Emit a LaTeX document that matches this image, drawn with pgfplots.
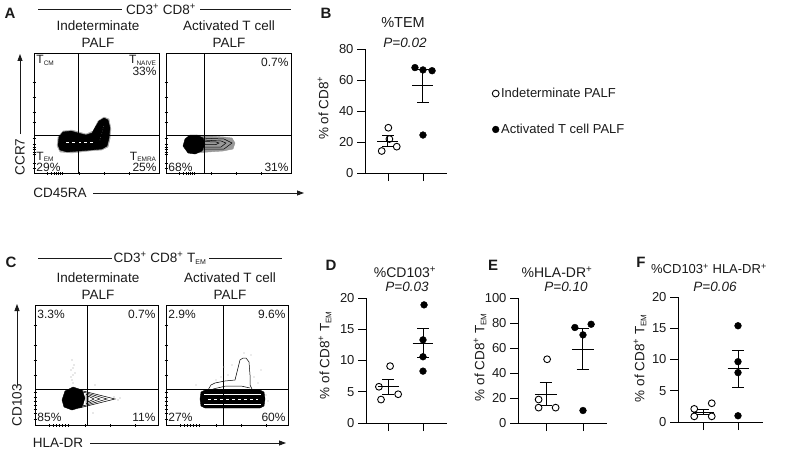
\documentclass[border=0pt]{standalone}
\usepackage{fontspec}
\setmainfont{Liberation Sans}
\usepackage{pgfplots}
\pgfplotsset{compat=1.18}
\usetikzlibrary{arrows.meta}
\definecolor{txt}{HTML}{1A1A1A}
\newcommand{\fs}[1]{\fontsize{#1}{#1}\selectfont}
\tikzset{ql/.style={inner sep=1pt, font=\fontsize{12}{11.5}\selectfont, text=txt}}
\begin{document}
\begin{tikzpicture}[x=1pt,y=-1pt]
\useasboundingbox (0,0) rectangle (785,452);
\pgfplotsset{
 flow/.style={scale only axis, anchor=south west, height=120pt, ymin=0, ymax=120,
   axis line style={line width=0.8pt}, xticklabels={}, yticklabels={},
   tick style={black,line width=0.5pt}, major tick length=3pt, tick align=center,
   tick pos=left, clip=true},
 dot/.style={scale only axis, anchor=south west, axis x line*=bottom, axis y line*=left,
   xtick={1,2}, xticklabels={}, major tick length=8pt, tick align=outside,
   tick style={black,line width=0.9pt}, axis line style={line width=0.9pt},
   ymin=0, height=125pt, ticklabel style={font=\fs{13}, text=txt},
   /pgf/number format/assume math mode=true, clip=false},
 open/.style={only marks, mark=o, mark size=3.4pt, mark options={line width=0.9pt, black, fill=white}},
 closed/.style={only marks, mark=*, mark size=3.4pt, mark options={black, fill=black}},
 sem/.style={black, line width=1pt, unbounded coords=jump, forget plot},
 blob/.style={fill=black, draw=black, line width=0.4pt, forget plot},
 cont/.style={black, line width=0.5pt, forget plot},
}
% ---------------- Panel A -----------------
\begin{axis}[flow, at={(34pt,-173pt)}, width=125pt, xmin=0, xmax=125,
  xtick={13,17,20,22,24,26,28,45,70,95}, ytick={5,10,19,21,24,26,29,35,51,61,76,91}]
\addplot[black!35, fill=black!35, forget plot] coordinates {(23,27)(24,36)(29,42)(38,43)(52,39)(59,42)(64,52)(70,56)(75,54)(77,44)(76,34)(74,26)(68,23)(55,22)(38,20)(26,21)(23,27)};
\addplot[blob] coordinates {(24,28)(25,36)(29,41)(37,42)(44,40)(52,38)(58,40)(62,47)(65,52)(70,55)(74,53)(76,45)(75,35)(73,27)(68,24)(57,23)(45,22)(33,21)(26,23)(24,28)};
\addplot[white, line width=0.4pt, dashed, forget plot] coordinates {(32,31)(60,31)};
\addplot[white, line width=0.3pt, dotted, forget plot] coordinates {(66,33)(70,48)};
\addplot[black, line width=0.9pt, forget plot] coordinates {(44,0)(44,120)};
\addplot[black, line width=0.9pt, forget plot] coordinates {(0,38)(125,38)};
\node[ql, anchor=north west] at (rel axis cs:0.01,0.99) {T\textsubscript{\fs{6.5}CM}};
\node[ql, anchor=north east, align=right] at (rel axis cs:0.99,0.99) {T\textsubscript{\fs{6.5}NAIVE}\\33\%};
\node[ql, anchor=south west, align=left] at (rel axis cs:0.01,0.0) {T\textsubscript{\fs{6.5}EM}\\29\%};
\node[ql, anchor=south east, align=right] at (rel axis cs:0.99,0.0) {T\textsubscript{\fs{6.5}EMRA}\\25\%};
\end{axis}
\begin{axis}[flow, at={(166pt,-173pt)}, width=125pt, xmin=0, xmax=125,
  xtick={13,17,20,22,24,26,28,45,70,95}, ytick={5,10,19,21,24,26,29,35,51,61,76,91}]
\addplot[black!40, fill=black!40, forget plot] coordinates {(18,27)(20,34)(24,37)(32,38)(44,37)(58,36)(66,35)(69,30)(67,24)(57,22)(42,21)(30,20)(22,21)(18,27)};
\addplot[cont] coordinates {(34,35)(58,34)(66,30)(58,24)(34,24)(34,35)};
\addplot[cont] coordinates {(36,33)(55,32)(60,30)(55,26)(36,26)(36,33)};
\addplot[cont] coordinates {(38,31.5)(50,31)(53,30)(50,28.5)(38,28.5)(38,31.5)};
\addplot[blob] coordinates {(17,27)(19,34)(24,38)(31,38)(37,35)(39,29)(36,22)(29,19)(22,20)(17,27)};
\addplot[black, line width=0.9pt, forget plot] coordinates {(38,0)(38,120)};
\addplot[black, line width=0.9pt, forget plot] coordinates {(0,38)(125,38)};
\node[ql, anchor=north east] at (rel axis cs:0.99,0.97) {0.7\%};
\node[ql, anchor=south west] at (rel axis cs:0.01,0.0) {68\%};
\node[ql, anchor=south east] at (rel axis cs:0.99,0.0) {31\%};
\end{axis}
% ---------------- Panel B -----------------
\begin{axis}[dot, at={(365pt,-173pt)}, width=82pt, height=124pt, xmin=0.343, xmax=2.686,
  ymax=80, ytick={0,20,40,60,80},
  legend style={draw=none, fill=none, at={(axis description cs:1.55,0.496)}, anchor=west,
    font=\fs{13}, text=txt, row sep=21pt, inner sep=0pt,
    nodes={inner xsep=2pt}}, legend cell align=left]
\addplot[open] coordinates {(1.01,29.2)(0.82,14.2)(1.25,17.0)(1.04,21.9)};
\addlegendentry{Indeterminate PALF}
\addplot[closed] coordinates {(1.77,68.0)(2.0,66.5)(2.26,66.0)(2.0,24.5)};
\addlegendentry{Activated T cell PALF}
\addplot[sem] coordinates {(0.7,20.6)(1.3,20.6)(1,inf)(0.83,23.9)(1.17,23.9)(1,inf)(0.83,17.3)(1.17,17.3)(1,inf)(1,17.3)(1,23.9)};
\addplot[sem] coordinates {(1.7,56.25)(2.3,56.25)(2,inf)(1.83,66.9)(2.17,66.9)(2,inf)(1.83,45.6)(2.17,45.6)(2,inf)(2,45.6)(2,66.9)};
\end{axis}
% ---------------- Panel C -----------------
\begin{axis}[flow, at={(35pt,-425pt)}, width=123pt, xmin=0, xmax=123,
  xtick={14,18,21,24,27,30,33,50,75,100}, ytick={6,12,16,20,24,28,33,50,65,80,100}]
\addplot[black!30, only marks, mark=*, mark size=0.35pt, forget plot] coordinates {(37,45)(38,50)(36,55)(39,60)(37,65)(38,42)(36,48)(38,57)(40,52)(80,26)(83,25)(85,27)(79,28)(58,12)(60,40)};
\addplot[cont] coordinates {(44,35)(80,26)(44,17)(44,35)};
\addplot[cont] coordinates {(48,33)(72,26)(48,19)(48,33)};
\addplot[cont] coordinates {(51,31)(65,26)(51,21)(51,31)};
\addplot[cont] coordinates {(53,29)(59,26)(53,23)(53,29)};
\addplot[blob] coordinates {(27,25)(30,34)(38,38)(47,35)(50,27)(47,18)(37,15)(29,18)(27,25)};
\addplot[black, line width=0.9pt, forget plot] coordinates {(52,0)(52,120)};
\addplot[black, line width=0.9pt, forget plot] coordinates {(0,36)(123,36)};
\node[ql, anchor=north west] at (rel axis cs:0.01,0.97) {3.3\%};
\node[ql, anchor=north east] at (rel axis cs:0.99,0.97) {0.7\%};
\node[ql, anchor=south west] at (rel axis cs:0.01,0.02) {85\%};
\node[ql, anchor=south east] at (rel axis cs:0.99,0.02) {11\%};
\end{axis}
\begin{axis}[flow, at={(166pt,-425pt)}, width=122pt, xmin=0, xmax=122,
  xtick={14,18,21,24,27,30,33,50,75,100}, ytick={6,12,16,20,24,28,33,50,65,80,100}]
\addplot[black!25, only marks, mark=*, mark size=0.35pt, forget plot] coordinates {(50,45)(55,48)(62,50)(88,48)(92,42)(95,55)(66,60)(58,58)(100,30)(102,24)(30,40)(85,70)(78,72)};
\addplot[cont] coordinates {(42,35)(45,40)(49,42)(59,44)(69,45)(71,53)(74,65)(77,67)(80,67)(83,63)(84,50)(84,40)(86,36)};
\addplot[cont] coordinates {(47,36)(60,39)(75,39)(84,37)};
\addplot[blob] coordinates {(39,35)(94,35)(98,33)(99,26)(98,19)(94,17)(39,17)(35,19)(34,26)(35,33)(39,35)};
\addplot[white, line width=0.4pt, dashed, forget plot] coordinates {(42,26)(92,26)};
\addplot[white, line width=0.3pt, forget plot] coordinates {(38,31)(95,31)};
\addplot[white, line width=0.3pt, forget plot] coordinates {(38,21)(95,21)};
\addplot[black, line width=0.9pt, forget plot] coordinates {(57,0)(57,120)};
\addplot[black, line width=0.9pt, forget plot] coordinates {(0,36)(122,36)};
\node[ql, anchor=north west] at (rel axis cs:0.01,0.97) {2.9\%};
\node[ql, anchor=north east] at (rel axis cs:0.99,0.97) {9.6\%};
\node[ql, anchor=south west] at (rel axis cs:0.01,0.02) {27\%};
\node[ql, anchor=south east] at (rel axis cs:0.99,0.02) {60\%};
\end{axis}
% ---------------- Panel D -----------------
\begin{axis}[dot, at={(366pt,-423pt)}, width=81pt, xmin=0.371, xmax=2.686, ymax=20, ytick={0,5,10,15,20}]
\addplot[open] coordinates {(1.06,9.1)(0.74,5.8)(1.29,4.6)(0.8,3.75)};
\addplot[closed] coordinates {(2.03,18.9)(2,13.3)(2,10.6)(2,8.3)};
\addplot[sem] coordinates {(0.7,5.81)(1.3,5.81)(1,inf)(0.83,6.98)(1.17,6.98)(1,inf)(0.83,4.64)(1.17,4.64)(1,inf)(1,4.64)(1,6.98)};
\addplot[sem] coordinates {(1.7,12.78)(2.3,12.78)(2,inf)(1.83,15.07)(2.17,15.07)(2,inf)(1.83,10.49)(2.17,10.49)(2,inf)(2,10.49)(2,15.07)};
\end{axis}
% ---------------- Panel E -----------------
\begin{axis}[dot, at={(518pt,-423pt)}, width=89pt, xmin=0.243, xmax=2.649, ymax=100, ytick={0,20,40,60,80,100}]
\addplot[open] coordinates {(1.03,51)(0.8,18.8)(0.8,12.3)(1.26,12.3)};
\addplot[closed] coordinates {(1.78,76.4)(2.22,79)(2.0,70.5)(2.0,10)};
\addplot[sem] coordinates {(0.7,23.1)(1.3,23.1)(1,inf)(0.83,32.4)(1.17,32.4)(1,inf)(0.83,13.8)(1.17,13.8)(1,inf)(1,13.8)(1,32.4)};
\addplot[sem] coordinates {(1.7,59)(2.3,59)(2,inf)(1.83,75.4)(2.17,75.4)(2,inf)(1.83,42.6)(2.17,42.6)(2,inf)(2,42.6)(2,75.4)};
\end{axis}
% ---------------- Panel F -----------------
\begin{axis}[dot, at={(678pt,-422pt)}, width=85pt, xmin=0.286, xmax=2.714, ymax=20, ytick={0,5,10,15,20}]
\addplot[open] coordinates {(0.75,0.9)(0.75,2.1)(1.25,0.9)(1.25,3.0)};
\addplot[closed] coordinates {(2,15.4)(2,9.65)(2,7.9)(2,1.0)};
\addplot[sem] coordinates {(0.7,1.6)(1.3,1.6)(1,inf)(0.83,2.05)(1.17,2.05)(1,inf)(0.83,1.15)(1.17,1.15)(1,inf)(1,1.15)(1,2.05)};
\addplot[sem] coordinates {(1.7,8.49)(2.3,8.49)(2,inf)(1.83,11.46)(2.17,11.46)(2,inf)(1.83,5.52)(2.17,5.52)(2,inf)(2,5.52)(2,11.46)};
\end{axis}
% ---------------- Texts -----------------
\begin{scope}[every node/.style={text=txt, inner sep=0pt}]
% panel letters
\node[font=\fs{15}\bfseries] at (10,13) {A};
\node[font=\fs{15}\bfseries] at (326,13) {B};
\node[font=\fs{15}\bfseries] at (11,262) {C};
\node[font=\fs{15}\bfseries] at (331,265) {D};
\node[font=\fs{15}\bfseries] at (493,265) {E};
\node[font=\fs{15}\bfseries] at (641,262) {F};
% A header
\draw[txt, line width=0.7pt] (38,9)--(122,9) (200,9)--(291,9);
\node[font=\fs{13.5}] at (161,9) {CD3\textsuperscript{+} CD8\textsuperscript{+}};
\node[font=\fs{13.5}] at (98,26) {Indeterminate};
\node[font=\fs{13.5}] at (98,43) {PALF};
\node[font=\fs{13.5}] at (229,26) {Activated T cell};
\node[font=\fs{13.5}] at (229,43) {PALF};
\draw[txt, line width=0.8pt, -{Triangle[length=7pt,width=5pt]}] (20,134)--(20,54);
\node[font=\fs{13.5}, rotate=90] at (20,157) {CCR7};
\node[font=\fs{13.5}] at (60,193) {CD45RA};
\draw[txt, line width=0.8pt, -{Triangle[length=7pt,width=5pt]}] (93,193)--(304,193);
% C header
\draw[txt, line width=0.7pt] (38,258)--(112,258) (209,258)--(282,258);
\node[font=\fs{13.5}] at (160,258) {CD3\textsuperscript{+} CD8\textsuperscript{+} T\textsubscript{\fs{7}EM}};
\node[font=\fs{13.5}] at (98,278) {Indeterminate};
\node[font=\fs{13.5}] at (98,295) {PALF};
\node[font=\fs{13.5}] at (230,278) {Activated T cell};
\node[font=\fs{13.5}] at (230,295) {PALF};
\draw[txt, line width=0.8pt, -{Triangle[length=7pt,width=5pt]}] (17,385)--(17,304);
\node[font=\fs{13.5}, rotate=90] at (17,405) {CD103};
\node[font=\fs{13.5}] at (58,443) {HLA-DR};
\draw[txt, line width=0.8pt, -{Triangle[length=7pt,width=5pt]}] (90,443)--(286,443);
% titles
\node[font=\fs{14.5}] at (403,23) {\%TEM};
\node[font=\fs{13.5}\itshape] at (405,43) {P=0.02};
\node[font=\fs{14}] at (405,272) {\%CD103\textsuperscript{+}};
\node[font=\fs{13.5}\itshape] at (407,287) {P=0.03};
\node[font=\fs{14}] at (557,272) {\%HLA-DR\textsuperscript{+}};
\node[font=\fs{13.5}\itshape] at (566,287) {P=0.10};
\node[font=\fs{13}] at (709,269) {\%CD103\textsuperscript{+} HLA-DR\textsuperscript{+}};
\node[font=\fs{13.5}\itshape] at (715,287) {P=0.06};
% y labels
\node[font=\fs{13.5}, rotate=90] at (323,108) {\% of CD8\textsuperscript{+}};
\node[font=\fs{13.5}, rotate=90] at (325,355) {\% of CD8\textsuperscript{+} T\textsubscript{\fs{8}EM}};
\node[font=\fs{13.5}, rotate=90] at (480,357) {\% of CD8\textsuperscript{+} T\textsubscript{\fs{8}EM}};
\node[font=\fs{13.5}, rotate=90] at (640,358) {\% of CD8\textsuperscript{+} T\textsubscript{\fs{8}EM}};
\end{scope}
\end{tikzpicture}
\end{document}
